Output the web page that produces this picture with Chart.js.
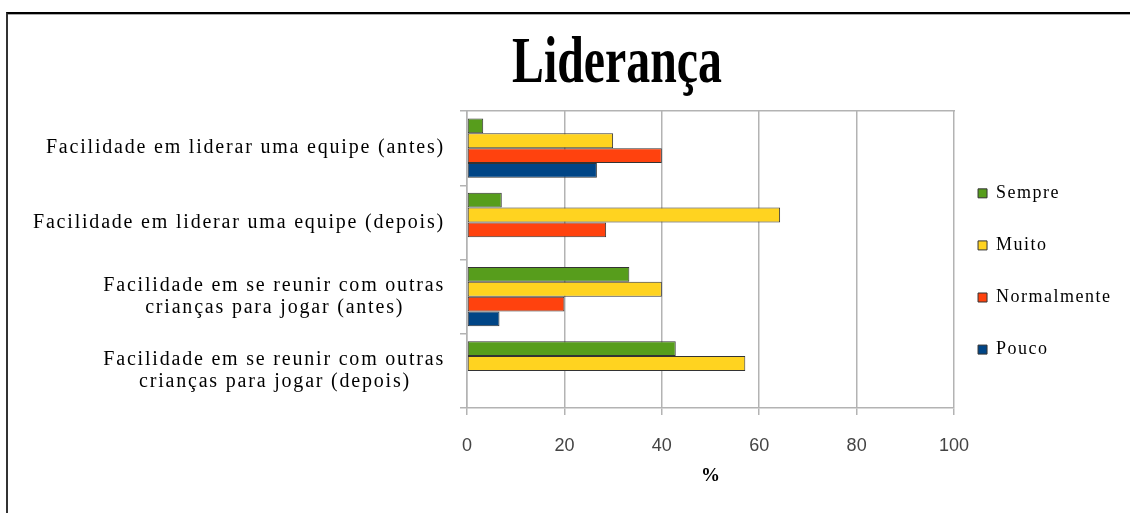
<!DOCTYPE html>
<html>
<head>
<meta charset="utf-8">
<script src="https://cdn.jsdelivr.net/npm/chart.js@4"></script>
<style>
  html, body { margin: 0; padding: 0; background: #fff; }
  #frame {
    position: absolute; left: 6px; top: 12px; width: 1200px; height: 600px;
    border-top: 2px solid #000; border-left: 2px solid #333;
    box-shadow: inset 0 1px 0 #aaa;
  }
  #wrap { position: absolute; left: 0; top: 0; width: 1130px; height: 513px; }
</style>
</head>
<body>
<div id="frame"></div>
<div id="wrap"><canvas id="lideranca"></canvas></div>
<script>
// categorias (eixo vertical)
const categories = [
    'Facilidade em liderar uma equipe (antes)',
    'Facilidade em liderar uma equipe (depois)',
    ['Facilidade em se reunir com outras', 'crianças para jogar (antes)'],
    ['Facilidade em se reunir com outras', 'crianças para jogar (depois)']
];

// séries (%)
const sempre      = [3.33, 7.14, 33.33, 42.86];
const muito       = [30, 64.29, 40, 57.14];
const normalmente = [40, 28.57, 20, null];
const pouco       = [26.67, null, 6.67, null];

const xTicks = [0, 20, 40, 60, 80, 100];

const serif = '"Liberation Serif", "Times New Roman", serif';
const labelFont = { family: serif, size: 20, lineHeight: 1.08 };
const labelSpacing = '1.8px';   // o texto do original é bem espaçado
const legendSpacing = '1.5px';

// centraliza as linhas de um rótulo de várias linhas (o bloco continua alinhado à direita)
function centerLines(label) {
    if (!Array.isArray(label)) return label;
    const ctx = document.createElement('canvas').getContext('2d');
    ctx.font = labelFont.size + 'px ' + labelFont.family;
    ctx.letterSpacing = labelSpacing;
    const sp = ctx.measureText(' ').width;
    const widths = label.map(l => ctx.measureText(l).width);
    const maxW = Math.max(...widths);
    return label.map((l, i) => l + ' '.repeat(Math.round((maxW - widths[i]) / 2 / sp)));
}

// eixo de categorias com rótulos espaçados
class SpacedCategoryScale extends Chart.CategoryScale {
    drawLabels(chartArea) {
        this.ctx.save();
        this.ctx.letterSpacing = labelSpacing;
        super.drawLabels(chartArea);
        this.ctx.restore();
    }
}
SpacedCategoryScale.id = 'spacedCategory';
SpacedCategoryScale.defaults = Chart.CategoryScale.defaults;
Chart.register(SpacedCategoryScale);

// legenda espaçada (sem recorte) + título comprimido na horizontal, como no original
const textStyle = {
    id: 'textStyle',
    beforeDraw(chart) {
        const lg = chart.legend;
        if (lg && !lg._spaced) {
            lg.draw = function () {
                if (!this.options.display) return;
                this.ctx.save();
                this.ctx.letterSpacing = legendSpacing;
                this._draw();
                this.ctx.restore();
            };
            lg._spaced = true;
        }
    },
    afterDraw(chart) {
        const ctx = chart.ctx;
        ctx.save();
        ctx.font = 'bold 66px ' + serif;
        ctx.fillStyle = '#000';
        ctx.textAlign = 'center';
        ctx.textBaseline = 'alphabetic';
        const w = ctx.measureText('Liderança').width;
        ctx.translate(chart.width * 0.546, 82);
        ctx.scale(210 / w, 1);
        ctx.fillText('Liderança', 0, 0);
        ctx.restore();
    }
};

const gridGray = '#b3b3b3';

new Chart(document.getElementById('lideranca').getContext('2d'), {
    type: 'bar',
    data: {
        labels: categories,
        datasets: [
            { label: 'Sempre', data: sempre, backgroundColor: '#579d1c' },
            { label: 'Muito', data: muito, backgroundColor: '#ffd320' },
            { label: 'Normalmente', data: normalmente, backgroundColor: '#ff420e' },
            { label: 'Pouco', data: pouco, backgroundColor: '#004586' }
        ].map(d => ({ ...d, borderColor: '#333', borderWidth: 1, borderSkipped: false,
                      categoryPercentage: 0.8, barPercentage: 1.0 }))
    },
    options: {
        indexAxis: 'y',
        responsive: true,
        maintainAspectRatio: false,
        animation: false,
        layout: { padding: { top: 111, left: 0, right: 25, bottom: 0 } },
        scales: {
            x: {
                min: 0, max: 100,
                afterBuildTicks: s => { s.ticks = xTicks.map(v => ({ value: v })); },
                afterFit: s => { s.height = 105; },
                grid: { color: gridGray, lineWidth: 1.5, tickLength: 7 },
                border: { color: gridGray, width: 1.5 },
                ticks: { color: '#444', padding: 20,
                         font: { family: '"Liberation Sans", Arial, sans-serif', size: 18 } },
                title: { display: true, text: '%', color: '#000', padding: { top: 0, bottom: 26 },
                         font: { family: serif, size: 19, weight: 'bold' } }
            },
            x2: {
                position: 'top', min: 0, max: 100,
                afterFit: s => { s.height = 0; },
                grid: { display: false },
                ticks: { display: false },
                border: { color: gridGray, width: 1.5 }
            },
            y: {
                type: 'spacedCategory',
                afterFit: s => { s.width = 467; },
                grid: { offset: true, drawOnChartArea: false, color: gridGray, lineWidth: 1.5, tickLength: 7 },
                border: { color: gridGray, width: 1.5 },
                ticks: { color: '#000', padding: 15, font: labelFont,
                         callback: (value, index) => centerLines(categories[index]) }
            }
        },
        plugins: {
            legend: {
                position: 'right',
                fullSize: false,
                title: { display: true, text: ' ', padding: 0, font: { family: serif, size: 17, lineHeight: 2 } },
                labels: {
                    color: '#000', boxWidth: 9, boxHeight: 9, padding: 24,
                    font: { family: serif, size: 18, lineHeight: 1.56 },
                    // texto em lista: a altura do item passa a seguir o lineHeight
                    generateLabels: chart => Chart.defaults.plugins.legend.labels.generateLabels(chart)
                        .map(l => ({ ...l, text: [l.text] }))
                }
            },
            title: { display: false },
            tooltip: { enabled: false }
        }
    },
    plugins: [textStyle]
});
</script>
</body>
</html>
